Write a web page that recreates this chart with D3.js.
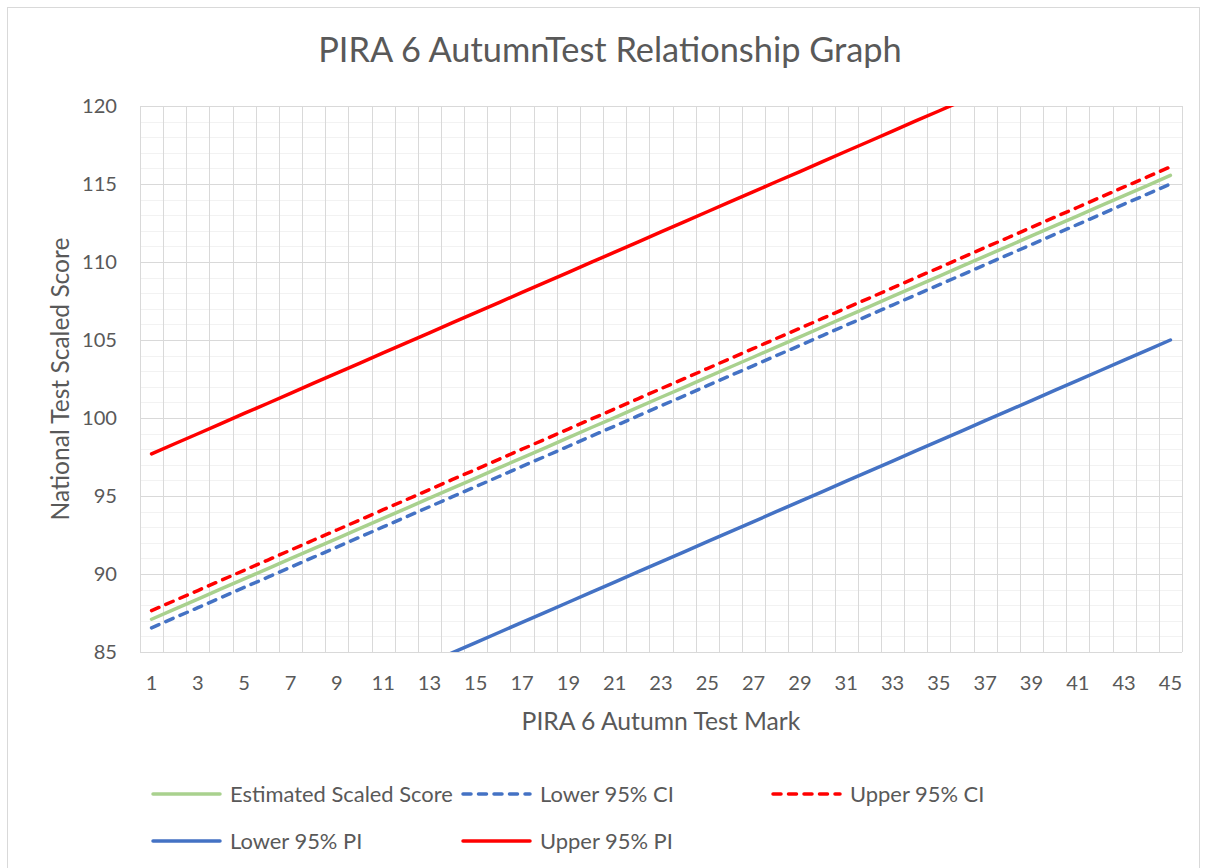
<!DOCTYPE html>
<html><head><meta charset="utf-8">
<script src="https://cdn.jsdelivr.net/npm/d3@7"></script>
<style>
body{margin:0;background:#fff}
text{font-family:Lato, "Open Sans", sans-serif; fill:#595959}
</style>
</head><body>
<svg id="chart" width="1205" height="868"></svg>
<script>
// ---------- data ----------
const marks = [1,2,3,4,5,6,7,8,9,10,11,12,13,14,15,16,17,18,19,20,21,22,23,24,25,26,27,28,29,30,31,32,33,34,35,36,37,38,39,40,41,42,43,44,45];
const xTickLabels = [1,3,5,7,9,11,13,15,17,19,21,23,25,27,29,31,33,35,37,39,41,43,45];
const yTicks = [85,90,95,100,105,110,115,120];

const estimated = [87.10,87.75,88.39,89.04,89.69,90.33,90.98,91.63,92.27,92.92,93.57,94.21,94.86,95.51,96.15,96.80,97.45,98.09,98.74,99.39,100.03,100.68,101.33,101.97,102.62,103.27,103.91,104.56,105.20,105.85,106.50,107.14,107.79,108.44,109.08,109.73,110.38,111.02,111.67,112.32,112.96,113.61,114.26,114.90,115.55];
const lowerCI = [86.55,87.20,87.84,88.49,89.14,89.78,90.43,91.08,91.72,92.37,93.02,93.66,94.31,94.96,95.60,96.25,96.90,97.54,98.19,98.84,99.48,100.13,100.78,101.42,102.07,102.72,103.36,104.01,104.65,105.30,105.95,106.59,107.24,107.89,108.53,109.18,109.83,110.47,111.12,111.77,112.41,113.06,113.71,114.35,115.00];
const upperCI = [87.65,88.30,88.94,89.59,90.24,90.88,91.53,92.18,92.82,93.47,94.12,94.76,95.41,96.06,96.70,97.35,98.00,98.64,99.29,99.94,100.58,101.23,101.88,102.52,103.17,103.82,104.46,105.11,105.75,106.40,107.05,107.69,108.34,108.99,109.63,110.28,110.93,111.57,112.22,112.87,113.51,114.16,114.81,115.45,116.10];
const lowerPI = [76.55,77.20,77.84,78.49,79.14,79.78,80.43,81.08,81.72,82.37,83.02,83.66,84.31,84.96,85.60,86.25,86.90,87.54,88.19,88.84,89.48,90.13,90.78,91.42,92.07,92.72,93.36,94.01,94.65,95.30,95.95,96.59,97.24,97.89,98.53,99.18,99.83,100.47,101.12,101.77,102.41,103.06,103.71,104.35,105.00];
const upperPI = [97.70,98.35,98.99,99.64,100.29,100.93,101.58,102.23,102.87,103.52,104.17,104.81,105.46,106.11,106.75,107.40,108.05,108.69,109.34,109.99,110.63,111.28,111.93,112.57,113.22,113.87,114.51,115.16,115.80,116.45,117.10,117.74,118.39,119.04,119.68,120.33,120.98,121.62,122.27,122.92,123.56,124.21,124.86,125.50,126.15];

const seriesNames = ["Estimated Scaled Score","Lower 95% CI","Upper 95% CI","Lower 95% PI","Upper 95% PI"];
const seriesValues = [estimated, lowerCI, upperCI, lowerPI, upperPI];

// ---------- styles ----------
const seriesStyle = [
  {color:"#A9D18E", dash:null},
  {color:"#4472C4", dash:"8,7.5"},
  {color:"#FF0000", dash:"8,7.5"},
  {color:"#4472C4", dash:null},
  {color:"#FF0000", dash:null}
];
const legendPos = [[153,794],[463,794],[773,794],[153,841],[463,841]];

const svg = d3.select("#chart");
const P = {left:140, top:106, right:1182, bottom:652};

function fit(sel, target){
  const w = sel.node().getComputedTextLength();
  const fs = parseFloat(sel.attr("font-size"));
  const nf = fs*target/w;
  sel.attr("font-size", nf);
  return nf;
}

// chart border
svg.append("rect").attr("x",7.5).attr("y",7.5).attr("width",1192).attr("height",870)
  .attr("fill","#fff").attr("stroke","#d9d9d9").attr("stroke-width",1);

const x = d3.scaleBand().domain(marks).range([P.left,P.right]).paddingInner(0).paddingOuter(0);
const y = d3.scaleLinear().domain([85,120]).range([P.bottom,P.top]);
const bw = x.bandwidth();

// gridlines
const minor = d3.range(85,121,1).filter(v=>v%5!==0);
svg.append("g").selectAll("line").data(minor).join("line")
  .attr("x1",P.left).attr("x2",P.right)
  .attr("y1",d=>Math.round(y(d))+0.5).attr("y2",d=>Math.round(y(d))+0.5)
  .attr("stroke","#f2f2f2").attr("stroke-width",1);
svg.append("g").selectAll("line").data(yTicks).join("line")
  .attr("x1",P.left).attr("x2",P.right)
  .attr("y1",d=>Math.round(y(d))+0.5).attr("y2",d=>Math.round(y(d))+0.5)
  .attr("stroke","#d9d9d9").attr("stroke-width",1);
const vb = marks.map(m=>x(m)).concat([P.right]);
svg.append("g").selectAll("line").data(vb).join("line")
  .attr("x1",d=>Math.round(d)+0.5).attr("x2",d=>Math.round(d)+0.5)
  .attr("y1",P.top).attr("y2",P.bottom)
  .attr("stroke","#d9d9d9").attr("stroke-width",1);

// axes
const yAxis = svg.append("g").attr("transform",`translate(${P.left},0)`)
  .call(d3.axisLeft(y).tickValues(yTicks).tickSize(0).tickPadding(23));
yAxis.select(".domain").remove();
const xAxis = svg.append("g").attr("transform",`translate(0,${P.bottom})`)
  .call(d3.axisBottom(x).tickValues(xTickLabels).tickSize(0).tickPadding(24));
xAxis.select(".domain").remove();
svg.selectAll(".tick text").attr("font-family","Lato, sans-serif").attr("fill","#595959").attr("font-size",20);
const t120 = yAxis.selectAll(".tick text").filter(d=>d===120);
const tickFs = fit(t120, 35);
svg.selectAll(".tick text").attr("font-size",tickFs);

// clip
svg.append("clipPath").attr("id","plotclip").append("rect")
  .attr("x",P.left).attr("y",P.top).attr("width",P.right-P.left).attr("height",P.bottom-P.top);

const line = d3.line().x((d,i)=>x(marks[i])+bw/2).y(d=>y(d));
const lg = svg.append("g").attr("clip-path","url(#plotclip)");
seriesValues.forEach((vals,i)=>{
  lg.append("path").datum(vals).attr("d",line)
    .attr("fill","none").attr("stroke",seriesStyle[i].color).attr("stroke-width",3.5)
    .attr("stroke-linecap","round").attr("stroke-linejoin","round")
    .attr("stroke-dasharray",seriesStyle[i].dash);
});

// title
const title = svg.append("text").attr("x",610).attr("y",50).attr("dy","0.35em")
  .attr("text-anchor","middle").attr("font-size",30).text("PIRA 6 AutumnTest Relationship Graph");
fit(title,584);

// axis titles
const xt = svg.append("text").attr("x",(P.left+P.right)/2).attr("y",721).attr("dy","0.35em")
  .attr("text-anchor","middle").attr("font-size",21).text("PIRA 6 Autumn Test Mark");
fit(xt,279);
const yt = svg.append("text").attr("transform",`translate(60,${(P.top+P.bottom)/2}) rotate(-90)`)
  .attr("dy","0.35em").attr("text-anchor","middle").attr("font-size",21).text("National Test Scaled Score");
fit(yt,283);

// legend
const leg = svg.append("g");
let legFs = 20;
seriesNames.forEach((n,i)=>{
  const [lx,ly] = legendPos[i];
  leg.append("line").attr("x1",lx).attr("x2",lx+67).attr("y1",ly).attr("y2",ly)
    .attr("stroke",seriesStyle[i].color).attr("stroke-width",3.5)
    .attr("stroke-linecap","round").attr("stroke-dasharray",seriesStyle[i].dash);
  const t = leg.append("text").attr("class","lt").attr("x",lx+77).attr("y",ly).attr("dy","0.35em")
    .attr("font-size",20).text(n);
  if(i===0) legFs = fit(t,223);
});
leg.selectAll(".lt").attr("font-size",legFs);
</script>
</body></html>
